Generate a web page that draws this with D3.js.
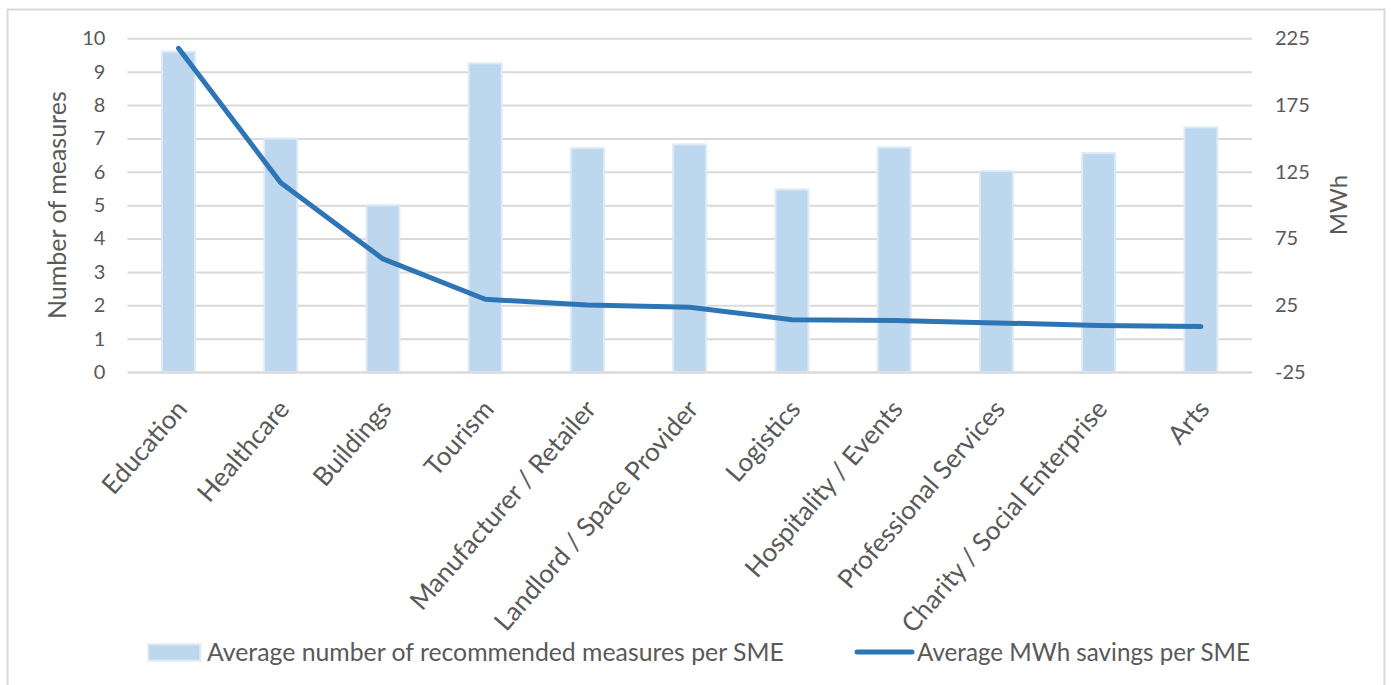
<!DOCTYPE html>
<html>
<head>
<meta charset="utf-8">
<script src="https://cdn.jsdelivr.net/npm/d3@7"></script>
<style>
  html, body { margin: 0; padding: 0; background: #fff; }
  svg { display: block; }
  text { font-family: "Lato", "Open Sans", sans-serif; fill: #595959; }
</style>
</head>
<body>
<svg id="chart" width="1391" height="685"></svg>
<script>
// Sectors along the x axis
const categories = [
  "Education", "Healthcare", "Buildings", "Tourism", "Manufacturer / Retailer",
  "Landlord / Space Provider", "Logistics", "Hospitality / Events",
  "Professional Services", "Charity / Social Enterprise", "Arts"
];
// Average number of recommended measures per SME (left axis)
const measures = [9.6, 7.0, 5.0, 9.25, 6.71, 6.82, 5.47, 6.73, 6.02, 6.56, 7.33];
// Average MWh savings per SME (right axis)
const mwhSavings = [217.5, 116.8, 59.7, 29.5, 25.2, 23.5, 14.2, 13.5, 11.8, 9.9, 9.0];
// Axis ticks
const leftTicks = [0, 1, 2, 3, 4, 5, 6, 7, 8, 9, 10];
const rightTicks = [-25, 25, 75, 125, 175, 225];
// Series names
const barSeriesName = "Average number of recommended measures per SME";
const lineSeriesName = "Average MWh savings per SME";

const svg = d3.select("#chart");
const plot = { left: 127.4, right: 1252, top: 38.3, bottom: 372 };

const gridColor = "#d9d9d9";
const barFill = "#bdd7ee";
const barStroke = "#deebf7";
const lineColor = "#2e75b6";
const fontFamily = "Lato, 'Open Sans', sans-serif";

// Outer chart frame
svg.append("rect")
  .attr("x", 7.5).attr("y", 9.5)
  .attr("width", 1377).attr("height", 700)
  .attr("fill", "#fff").attr("stroke", gridColor).attr("stroke-width", 2);

const x = d3.scaleBand()
  .domain(categories)
  .range([plot.left, plot.right])
  .paddingInner(0.677)
  .paddingOuter(0.677 / 2);

const yL = d3.scaleLinear().domain([0, 10]).range([plot.bottom, plot.top]);
const yR = d3.scaleLinear().domain([-25, 225]).range([plot.bottom, plot.top]);

// Horizontal gridlines from the left axis ticks
const leftAxis = d3.axisLeft(yL).tickValues(leftTicks)
  .tickSize(-(plot.right - plot.left)).tickPadding(22).tickFormat(d => String(d));
const gL = svg.append("g").attr("transform", `translate(${plot.left},0)`).call(leftAxis);
gL.select(".domain").remove();
gL.selectAll(".tick line").attr("stroke", gridColor).attr("stroke-width", 2);
gL.selectAll(".tick text")
  .attr("fill", "#595959").style("font-size", "20px").style("font-family", fontFamily);

// Right axis labels
const rightAxis = d3.axisRight(yR).tickValues(rightTicks).tickSize(0).tickPadding(23)
  .tickFormat(d => String(d));
const gR = svg.append("g").attr("transform", `translate(${plot.right},0)`).call(rightAxis);
gR.select(".domain").remove();
gR.selectAll(".tick text")
  .attr("fill", "#595959").style("font-size", "20px").style("font-family", fontFamily);

// Bars
svg.append("g").selectAll("rect")
  .data(categories)
  .join("rect")
  .attr("x", d => x(d))
  .attr("width", x.bandwidth())
  .attr("y", (d, i) => yL(measures[i]))
  .attr("height", (d, i) => yL(0) - yL(measures[i]))
  .attr("fill", barFill)
  .attr("stroke", barStroke)
  .attr("stroke-width", 2);

// Category axis (line + rotated labels)
const bottomAxis = d3.axisBottom(x).tickSize(0).tickSizeOuter(0);
const gX = svg.append("g").attr("transform", `translate(0,${plot.bottom})`).call(bottomAxis);
gX.select(".domain").attr("stroke", gridColor).attr("stroke-width", 2);
gX.selectAll(".tick text")
  .attr("fill", "#595959")
  .style("font-size", "26px")
  .style("font-family", fontFamily)
  .attr("text-anchor", "end")
  .attr("dy", null)
  .attr("y", 0)
  .attr("transform", "translate(10,38) rotate(-49)");

// Line series
const line = d3.line()
  .x((d, i) => x(categories[i]) + x.bandwidth() / 2)
  .y(d => yR(d));
svg.append("path")
  .datum(mwhSavings)
  .attr("d", line)
  .attr("fill", "none")
  .attr("stroke", lineColor)
  .attr("stroke-width", 5)
  .attr("stroke-linecap", "round")
  .attr("stroke-linejoin", "round");

// Axis titles
svg.append("text")
  .attr("transform", `translate(56,${(plot.top + plot.bottom) / 2}) rotate(-90)`)
  .attr("text-anchor", "middle").attr("dominant-baseline", "central")
  .style("font-size", "25px")
  .text("Number of measures");
svg.append("text")
  .attr("transform", `translate(1337,${(plot.top + plot.bottom) / 2}) rotate(-90)`)
  .attr("text-anchor", "middle").attr("dominant-baseline", "central")
  .style("font-size", "24px")
  .text("MWh");

// Legend
const legend = svg.append("g");
legend.append("rect")
  .attr("x", 148.3).attr("y", 644.3).attr("width", 52).attr("height", 16.4)
  .attr("fill", barFill).attr("stroke", barStroke).attr("stroke-width", 2);
legend.append("text").attr("x", 207).attr("y", 660.5)
  .style("font-size", "24.8px").text(barSeriesName);
legend.append("line")
  .attr("x1", 857).attr("x2", 912).attr("y1", 652).attr("y2", 652)
  .attr("stroke", lineColor).attr("stroke-width", 5).attr("stroke-linecap", "round");
legend.append("text").attr("x", 917).attr("y", 660.5)
  .style("font-size", "24.2px").text(lineSeriesName);
</script>
</body>
</html>
